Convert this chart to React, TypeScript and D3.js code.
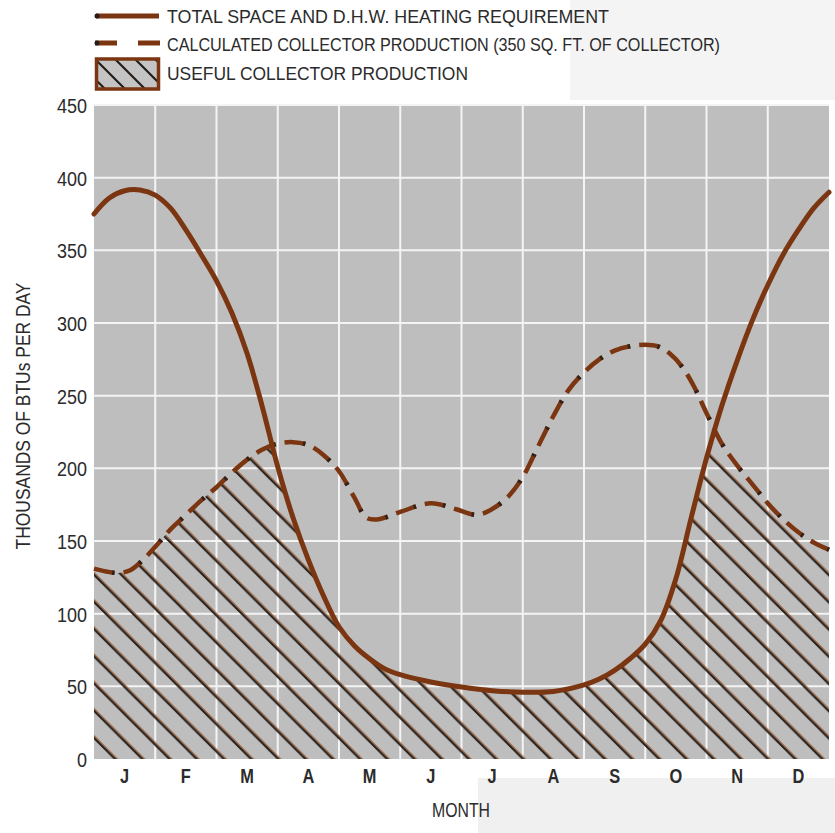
import React from "react";
import * as d3 from "d3";

// ---- data (month position 0..12, thousands of BTU per day) ----
const MONTHS = ["J", "F", "M", "A", "M", "J", "J", "A", "S", "O", "N", "D"];
const Y_TICKS = [0, 50, 100, 150, 200, 250, 300, 350, 400, 450];

const REQ_T = [0, 0.25, 0.5, 0.75, 1.0, 1.25, 1.5, 1.75, 2.0, 2.25, 2.5, 2.75, 3.0, 3.25, 3.5, 3.75, 4.0, 4.25, 4.5, 4.75, 5.0, 5.5, 6.0, 6.5, 7.0, 7.5, 8.0, 8.25, 8.5, 8.75, 9.0, 9.25, 9.5, 9.75, 10.0, 10.25, 10.5, 10.75, 11.0, 11.25, 11.5, 11.75, 12.0];
const REQ_V = [375, 386, 391, 391.5, 388, 379, 364, 347, 329, 307, 279, 242, 201, 166, 137, 112, 91, 78, 69, 62, 58, 53, 49.5, 47, 46, 46.5, 51, 55, 61, 69, 79, 95, 124, 166, 207, 243, 274, 302, 326, 347, 364, 379, 390];

const PROD_T = [0, 0.2, 0.4, 0.6, 0.8, 1.0, 1.25, 1.5, 1.75, 2.0, 2.25, 2.5, 2.75, 3.0, 3.25, 3.5, 3.75, 4.0, 4.25, 4.45, 4.65, 5.0, 5.5, 5.9, 6.25, 6.5, 6.75, 7.0, 7.25, 7.5, 7.75, 8.0, 8.25, 8.5, 8.75, 9.0, 9.2, 9.4, 9.6, 9.8, 10.0, 10.25, 10.5, 10.75, 11.0, 11.25, 11.5, 11.75, 12.0];
const PROD_V = [131, 129, 128, 130, 137, 146, 158, 168, 178, 187, 197, 206, 213, 217, 218, 216, 209, 198, 180, 166, 165, 170, 176, 172, 168, 172, 180, 194, 215, 236, 254, 266, 275, 281, 284, 285, 284, 279, 270, 256, 238, 217, 202, 189, 176, 165, 156, 149, 144];

const LEGEND_LABELS = [
  "TOTAL SPACE AND D.H.W. HEATING REQUIREMENT",
  "CALCULATED COLLECTOR PRODUCTION  (350 SQ. FT. OF COLLECTOR)",
  "USEFUL COLLECTOR PRODUCTION",
];
const Y_TITLE = "THOUSANDS OF BTUs PER DAY";
const X_TITLE = "MONTH";

// ---- styling ----
const W = 835;
const H = 833;
const M = { left: 94, right: 829, top: 105, bottom: 759 };
const BROWN = "#7b3611";
const DARK = "#241d1a";
const TEXT = "#2b2b2b";
const FONT = "'Liberation Sans', Arial, Helvetica, sans-serif";
const HATCH = 27.2;

function hatchPath(size: number, offset: number) {
  const parts: string[] = [];
  for (const c of [-size, 0, size]) {
    parts.push(`M${-5},${-5 + c + offset}L${size + 5},${size + 5 + c + offset}`);
  }
  return parts.join("");
}

export default function App() {
  const x = d3.scaleLinear().domain([0, 12]).range([M.left, M.right]);
  const y = d3.scaleLinear().domain([0, 450]).range([M.bottom, M.top]);

  const req: [number, number][] = REQ_T.map((t, i) => [t, REQ_V[i]]);
  const prod: [number, number][] = PROD_T.map((t, i) => [t, PROD_V[i]]);

  const curve = d3.curveCatmullRom.alpha(0.5);
  const line = d3
    .line<[number, number]>()
    .x((d) => x(d[0]))
    .y((d) => y(d[1]))
    .curve(curve);
  const area = d3
    .area<[number, number]>()
    .x((d) => x(d[0]))
    .y0(y(0) + 2)
    .y1((d) => y(d[1]))
    .curve(curve);

  const monthW = x(1) - x(0);

  return (
    <svg
      width={W}
      height={H}
      style={{ position: "absolute", left: 0, top: 0, display: "block" }}
      fontFamily={FONT}
    >
      <defs>
        <pattern id="hatch" patternUnits="userSpaceOnUse" width={HATCH} height={HATCH} x={0} y={18.4}>
          <path d={hatchPath(HATCH, -2.4)} stroke="#9a5a30" strokeWidth={1.1} fill="none" />
          <path d={hatchPath(HATCH, 0)} stroke={DARK} strokeWidth={2} fill="none" />
        </pattern>
        <pattern id="hatchLegend" patternUnits="userSpaceOnUse" width={20} height={20} x={0} y={4}>
          <path d={hatchPath(20, 0)} stroke={DARK} strokeWidth={2.2} fill="none" />
        </pattern>
        <clipPath id="clipReq">
          <path d={area(req) || ""} />
        </clipPath>
        <clipPath id="clipProd">
          <path d={area(prod) || ""} />
        </clipPath>
        <clipPath id="clipPlot">
          <rect x={M.left} y={M.top} width={M.right - M.left} height={M.bottom - M.top} />
        </clipPath>
      </defs>

      {/* paper background */}
      <rect x={0} y={0} width={W} height={H} fill="#ffffff" />
      <rect x={570} y={0} width={W - 570} height={100} fill="#f4f4f4" />
      <rect x={478} y={778} width={W - 478} height={H - 778} fill="#f0f0f0" />

      {/* plot background */}
      <rect x={M.left} y={M.top} width={M.right - M.left} height={M.bottom - M.top} fill="#bebebe" />

      {/* grid */}
      {Y_TICKS.filter((v) => v > 0).map((v) => (
        <line key={"h" + v} x1={M.left} x2={M.right} y1={y(v)} y2={y(v)} stroke="#f4f4f4" strokeWidth={2} />
      ))}
      {d3.range(1, 12).map((m) => (
        <line key={"v" + m} x1={x(m)} x2={x(m)} y1={M.top} y2={M.bottom} stroke="#f4f4f4" strokeWidth={2} />
      ))}

      {/* useful production: hatch under min(requirement, production) */}
      <g clipPath="url(#clipPlot)">
        <g clipPath="url(#clipReq)">
          <rect
            x={M.left}
            y={M.top}
            width={M.right - M.left}
            height={M.bottom - M.top}
            fill="url(#hatch)"
            clipPath="url(#clipProd)"
          />
        </g>
      </g>

      {/* calculated production (dashed) */}
      <path d={line(prod) || ""} fill="none" stroke={BROWN} strokeWidth={4.5} strokeDasharray="21 9" />
      <path
        d={line(prod) || ""}
        fill="none"
        stroke={DARK}
        strokeWidth={4.5}
        strokeDasharray="2.5 27.5"
        strokeDashoffset={-18.5}
        opacity={0.85}
      />

      {/* total requirement (solid) */}
      <path d={line(req) || ""} fill="none" stroke={BROWN} strokeWidth={5} strokeLinecap="round" />

      {/* y tick labels */}
      {Y_TICKS.map((v) => (
        <text
          key={"yt" + v}
          x={87}
          y={y(v) + 1}
          textAnchor="end"
          dominantBaseline="central"
          fontSize={20}
          fill={TEXT}
          textLength={String(v).length * 10}
          lengthAdjust="spacingAndGlyphs"
        >
          {v}
        </text>
      ))}

      {/* month labels */}
      {MONTHS.map((m, i) => (
        <text
          key={"m" + i}
          transform={`translate(${x(i) + monthW / 2},783) scale(0.78,1)`}
          textAnchor="middle"
          fontSize={21}
          fontWeight="bold"
          fill={TEXT}
        >
          {m}
        </text>
      ))}

      {/* axis titles */}
      <text
        x={461}
        y={817}
        textAnchor="middle"
        fontSize={21}
        fill={TEXT}
        textLength={58}
        lengthAdjust="spacingAndGlyphs"
      >
        {X_TITLE}
      </text>
      <text
        transform={`translate(30,416) rotate(-90)`}
        textAnchor="middle"
        fontSize={21}
        fill={TEXT}
        textLength={267}
        lengthAdjust="spacingAndGlyphs"
      >
        {Y_TITLE}
      </text>

      {/* legend */}
      <line x1={96} x2={159} y1={16} y2={16} stroke={BROWN} strokeWidth={5} />
      <circle cx={97} cy={16} r={2.5} fill={DARK} />
      <line x1={95} x2={160} y1={43} y2={43} stroke={BROWN} strokeWidth={5} strokeDasharray="22 21" />
      <circle cx={97} cy={43} r={2.5} fill={DARK} />
      <rect x={96.5} y={59} width={62} height={30} fill="#c4c4c4" />
      <rect x={96.5} y={59} width={62} height={30} fill="url(#hatchLegend)" />
      <rect x={96.5} y={59} width={62} height={30} fill="none" stroke={BROWN} strokeWidth={3.5} />

      {LEGEND_LABELS.map((label, i) => (
        <text
          key={"lg" + i}
          x={167}
          y={[22.5, 51, 79.5][i]}
          fontSize={19}
          fill={TEXT}
          textLength={[442, 553, 301][i]}
          lengthAdjust="spacingAndGlyphs"
        >
          {label}
        </text>
      ))}
    </svg>
  );
}
